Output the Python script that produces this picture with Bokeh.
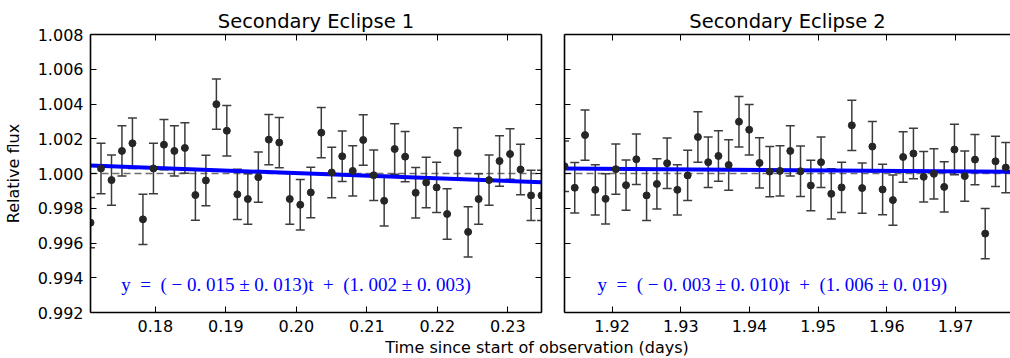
from bokeh.embed import file_html
from bokeh.layouts import column, row
from bokeh.models import (ColumnDataSource, CustomLabelingPolicy, Div, FixedTicker,
                          Label, LinearAxis, PrintfTickFormatter, Range1d, Span,
                          TeeHead, Whisker)
from bokeh.plotting import figure
from bokeh.resources import INLINE

# ---- Secondary eclipse 1: time since start (days), relative flux, 1-sigma error
t1 = [0.17080, 0.17229, 0.17378, 0.17526, 0.17675, 0.17824, 0.17973, 0.18122,
      0.18270, 0.18419, 0.18568, 0.18717, 0.18866, 0.19014, 0.19163, 0.19312,
      0.19461, 0.19610, 0.19758, 0.19907, 0.20056, 0.20205, 0.20354, 0.20502,
      0.20651, 0.20800, 0.20949, 0.21098, 0.21246, 0.21395, 0.21544, 0.21693,
      0.21842, 0.21990, 0.22139, 0.22288, 0.22437, 0.22586, 0.22734, 0.22883,
      0.23032, 0.23181, 0.23330, 0.23478]
flux1 = [0.99717, 1.00029, 0.99962, 1.00130, 1.00174, 0.99736, 1.00029, 1.00166,
         1.00130, 1.00147, 0.99876, 0.99960, 1.00399, 1.00246, 0.99880, 0.99853,
         0.99979, 1.00195, 1.00178, 0.99853, 0.99820, 0.99891, 1.00235, 1.00006,
         1.00099, 1.00015, 1.00193, 0.99990, 0.99843, 1.00141, 1.00097, 0.99889,
         0.99948, 0.99920, 0.99767, 1.00118, 0.99664, 0.99853, 0.99962, 1.00072,
         1.00112, 1.00023, 0.99874, 0.99874]
err1 = [0.00145, 0.00145, 0.00145, 0.00145, 0.00145, 0.00145, 0.00145, 0.00145,
        0.00145, 0.00145, 0.00145, 0.00145, 0.00145, 0.00145, 0.00145, 0.00145,
        0.00145, 0.00145, 0.00145, 0.00145, 0.00145, 0.00145, 0.00145, 0.00145,
        0.00145, 0.00145, 0.00145, 0.00145, 0.00145, 0.00145, 0.00145, 0.00145,
        0.00145, 0.00145, 0.00145, 0.00145, 0.00145, 0.00145, 0.00145, 0.00145,
        0.00145, 0.00145, 0.00145, 0.00145]

# ---- Secondary eclipse 2
t2 = [1.91307, 1.91456, 1.91606, 1.91755, 1.91905, 1.92054, 1.92203, 1.92353,
      1.92502, 1.92652, 1.92801, 1.92950, 1.93100, 1.93249, 1.93399, 1.93548,
      1.93697, 1.93847, 1.93996, 1.94146, 1.94295, 1.94444, 1.94594, 1.94743,
      1.94893, 1.95042, 1.95191, 1.95341, 1.95490, 1.95640, 1.95789, 1.95938,
      1.96088, 1.96237, 1.96387, 1.96536, 1.96685, 1.96835, 1.96984, 1.97134,
      1.97283, 1.97432, 1.97582, 1.97731]
flux2 = [1.00042, 0.99918, 1.00221, 0.99906, 0.99854, 1.00025, 0.99933, 1.00082,
         0.99874, 0.99940, 1.00059, 0.99906, 0.99989, 1.00210, 1.00065, 1.00101,
         1.00049, 1.00298, 1.00252, 1.00061, 1.00011, 1.00015, 1.00130, 1.00013,
         0.99931, 1.00065, 0.99883, 0.99920, 1.00277, 0.99916, 1.00155, 0.99908,
         0.99847, 1.00095, 1.00115, 0.99981, 0.99998, 0.99923, 1.00138, 0.99985,
         1.00080, 0.99654, 1.00070, 1.00034]
err2 = [0.00145, 0.00145, 0.00145, 0.00145, 0.00145, 0.00145, 0.00145, 0.00145,
        0.00145, 0.00145, 0.00145, 0.00145, 0.00145, 0.00145, 0.00145, 0.00145,
        0.00145, 0.00145, 0.00145, 0.00145, 0.00145, 0.00145, 0.00145, 0.00145,
        0.00145, 0.00145, 0.00145, 0.00145, 0.00145, 0.00145, 0.00145, 0.00145,
        0.00145, 0.00145, 0.00145, 0.00145, 0.00145, 0.00145, 0.00145, 0.00145,
        0.00145, 0.00145, 0.00145, 0.00145]

titles = ["Secondary Eclipse 1", "Secondary Eclipse 2"]
x_ticks1 = [0.18, 0.19, 0.20, 0.21, 0.22, 0.23]
x_ticks2 = [1.92, 1.93, 1.94, 1.95, 1.96, 1.97]
y_ticks = [0.992, 0.994, 0.996, 0.998, 1.000, 1.002, 1.004, 1.006, 1.008]
x_limits = [(0.17080, 0.23478), (1.91307, 1.97800)]
y_limits = (0.992, 1.008)

# linear fits: slope per day, and the fitted flux at the panel's first exposure
fit_slopes = [-0.015, -0.003]
fit_start = [1.00046, 1.00029]
fit_labels = [
    "y \u00a0= \u00a0( \u2212 0. 015 \u00b1 0. 013)t \u00a0+ \u00a0(1. 002 \u00b1 0. 003)",
    "y \u00a0= \u00a0( \u2212 0. 003 \u00b1 0. 010)t \u00a0+ \u00a0(1. 006 \u00b1 0. 019)",
]
label_at = [(0.17515, 0.99360), (1.91787, 0.99360)]

SANS = "DejaVu Sans"
BAR = "#3c3c3c"
DOT = "#262626"

# tick marks only: no label is kept on the secondary spines
NO_LABELS = CustomLabelingPolicy(code="for (const i of indices) indices.unset(i); return indices")


def style_axis(ax, ticks, fmt, show_labels):
    ax.ticker = FixedTicker(ticks=ticks)
    ax.formatter = PrintfTickFormatter(format=fmt)
    ax.major_tick_in = 6
    ax.major_tick_out = 0
    ax.minor_tick_in = 0
    ax.minor_tick_out = 0
    ax.axis_line_color = "black"
    ax.axis_line_width = 1.6
    ax.major_tick_line_color = "black"
    ax.major_tick_line_width = 1
    ax.major_label_text_font = SANS
    ax.major_label_text_color = "black"
    if show_labels:
        ax.major_label_text_font_size = "16px"
        ax.major_label_standoff = 7
    else:
        ax.major_label_text_font_size = "0px"
        ax.major_label_standoff = 0
        ax.major_label_policy = NO_LABELS


def panel(idx, t, flux, err, xticks, first):
    p = figure(width=553 if first else 457, height=336,
               x_range=Range1d(*x_limits[idx]), y_range=Range1d(*y_limits),
               output_backend="svg", toolbar_location=None,
               min_border_left=89 if first else 11,
               min_border_right=12 if first else 0,
               min_border_top=34, min_border_bottom=24,
               title=titles[idx])
    p.outline_line_color = None
    p.grid.visible = False
    p.background_fill_color = "white"
    p.border_fill_color = "white"

    p.title.text_font = SANS
    p.title.text_font_size = "19.5px"
    p.title.text_font_style = "normal"
    p.title.text_color = "black"
    p.title.align = "center"
    p.title.standoff = 3

    top = LinearAxis()
    p.add_layout(top, "above")
    style_axis(p.below[0], xticks, "%.2f", True)
    style_axis(top, xticks, "%.2f", False)
    style_axis(p.left[0], y_ticks, "%.3f", first)
    if first:
        right = LinearAxis()
        p.add_layout(right, "right")
        style_axis(right, y_ticks, "%.3f", False)
        p.left[0].axis_label = "Relative flux"
        p.left[0].axis_label_text_font = SANS
        p.left[0].axis_label_text_font_size = "16px"
        p.left[0].axis_label_text_font_style = "normal"
        p.left[0].axis_label_text_color = "black"
        p.left[0].axis_label_standoff = 12

    # reference level of unit flux
    p.add_layout(Span(location=1.0, dimension="width", line_color="#6e6e6e",
                      line_width=1.5, line_dash="7 4", level="underlay"))

    src = ColumnDataSource(dict(
        t=t, flux=flux,
        lower=[f - e for f, e in zip(flux, err)],
        upper=[f + e for f, e in zip(flux, err)],
    ))
    p.add_layout(Whisker(source=src, base="t", lower="lower", upper="upper",
                         dimension="height", line_color=BAR, line_width=1.5,
                         lower_head=TeeHead(size=9, line_color=BAR, line_width=1.5),
                         upper_head=TeeHead(size=9, line_color=BAR, line_width=1.5)))

    # fitted straight line across the panel
    x0, x1 = x_limits[idx]
    slope, y0 = fit_slopes[idx], fit_start[idx]
    p.line([x0, x1], [y0, y0 + slope * (x1 - x0)], line_color="blue", line_width=4)

    p.scatter("t", "flux", source=src, size=7, fill_color=DOT, line_color=DOT)

    lx, ly = label_at[idx]
    p.add_layout(Label(x=lx, y=ly, text=fit_labels[idx],
                       text_font="Liberation Serif", text_font_size="19px",
                       text_color="blue", text_baseline="alphabetic",
                       text_align="left"))
    return p


p1 = panel(0, t1, flux1, err1, x_ticks1, True)
p2 = panel(1, t2, flux2, err2, x_ticks2, False)

xlabel = Div(text="Time since start of observation (days)", width=1010, height=22,
             margin=0,
             styles={"font-family": "'DejaVu Sans'", "font-size": "16px",
                     "text-align": "center", "padding-left": "64px",
                     "padding-top": "2px", "box-sizing": "border-box",
                     "line-height": "19px", "color": "black",
                     "background-color": "white"})

layout = column(row(p1, p2, spacing=0), xlabel, spacing=0)

with open("out.html", "w") as fh:
    fh.write(file_html(layout, INLINE))
